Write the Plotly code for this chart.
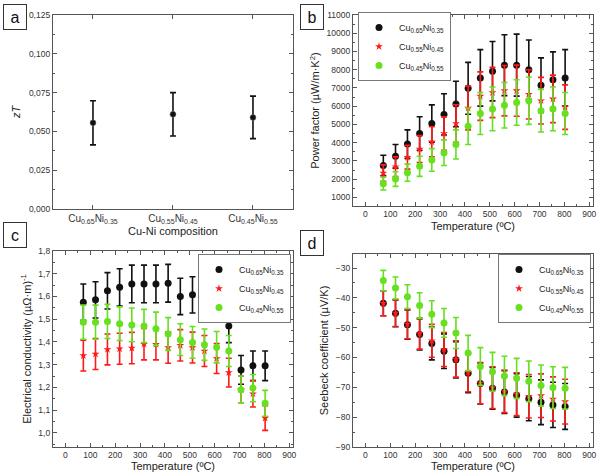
import plotly.graph_objects as go

# ---- data -------------------------------------------------------------
series_names = ["Cu<sub>0.65</sub>Ni<sub>0.35</sub>",
                "Cu<sub>0.55</sub>Ni<sub>0.45</sub>",
                "Cu<sub>0.45</sub>Ni<sub>0.55</sub>"]

# (a) zT per composition
zt_values = [0.0555, 0.061, 0.059]
zt_err = [0.0142, 0.014, 0.0137]

temps = [72, 121, 169, 218, 267, 316, 364, 413, 462, 511, 559, 608, 657, 706, 754, 803]

# (b) power factor
pf_065 = [2750, 3250, 3920, 4500, 5050, 5550, 6120, 6980, 7550, 7920, 8250, 8250, 8000, 7150, 7450, 7550]
pf_065_err = [560, 650, 780, 920, 1020, 1130, 1250, 1420, 1550, 1630, 1670, 1700, 1630, 1500, 1530, 1550]
pf_055 = [2330, 2680, 3200, 3650, 4050, 4500, 5050, 5900, 6550, 6750, 6850, 6850, 6650, 6300, 6400, 5950]
pf_055_err = [450, 540, 650, 740, 820, 920, 1030, 1200, 1330, 1380, 1380, 1400, 1350, 1280, 1300, 1220]
pf_045 = [1750, 2000, 2350, 2700, 3050, 3450, 3900, 4900, 5600, 5850, 6050, 6200, 6300, 5750, 5850, 5600]
pf_045_err = [350, 400, 470, 550, 620, 700, 800, 1000, 1150, 1200, 1250, 1250, 1300, 1170, 1200, 1150]

# (c) electrical conductivity
ec_065 = [1.575, 1.585, 1.625, 1.640, 1.655, 1.655, 1.655, 1.658, 1.600, 1.607, 1.607, 1.565, 1.470, 1.277, 1.295, 1.295]
ec_065_err = [0.080, 0.080, 0.080, 0.082, 0.083, 0.083, 0.083, 0.083, 0.080, 0.080, 0.080, 0.078, 0.073, 0.063, 0.065, 0.065]
ec_055 = [1.340, 1.347, 1.367, 1.370, 1.373, 1.390, 1.390, 1.375, 1.385, 1.375, 1.360, 1.327, 1.265, 1.190, 1.172, 1.065]
ec_055_err = [0.068, 0.068, 0.068, 0.068, 0.069, 0.069, 0.069, 0.069, 0.069, 0.068, 0.068, 0.066, 0.063, 0.060, 0.058, 0.054]
ec_045 = [1.487, 1.487, 1.490, 1.480, 1.475, 1.470, 1.458, 1.435, 1.410, 1.398, 1.388, 1.377, 1.360, 1.190, 1.197, 1.130]
ec_045_err = [0.075, 0.075, 0.075, 0.074, 0.074, 0.073, 0.073, 0.072, 0.070, 0.070, 0.069, 0.069, 0.068, 0.060, 0.060, 0.057]

# (d) Seebeck coefficient
sb_065 = [-41.8, -45.2, -49.0, -52.3, -55.3, -57.9, -60.8, -65.3, -68.7, -70.3, -71.6, -72.7, -73.8, -75.0, -75.9, -76.4]
sb_065_err = [4.2, 4.5, 4.9, 5.2, 5.5, 5.8, 6.1, 6.5, 6.9, 7.0, 7.2, 7.3, 7.4, 7.5, 7.6, 7.7]
sb_055 = [-41.8, -45.1, -48.8, -52.0, -54.4, -57.3, -60.5, -65.0, -68.6, -70.1, -71.4, -72.3, -73.0, -72.8, -73.9, -74.8]
sb_055_err = [4.2, 4.5, 4.9, 5.2, 5.5, 5.7, 6.1, 6.5, 6.9, 7.0, 7.1, 7.2, 7.3, 7.3, 7.4, 7.5]
sb_045 = [-34.2, -36.7, -39.6, -42.6, -45.5, -48.4, -51.8, -58.5, -63.0, -64.8, -66.2, -67.0, -68.0, -69.4, -70.1, -70.3]
sb_045_err = [3.4, 3.7, 4.0, 4.3, 4.5, 4.8, 5.2, 5.9, 6.3, 6.5, 6.6, 6.7, 6.8, 6.9, 7.0, 7.0]

colors = ["#111111", "#ff1a1a", "#66e01f"]
symbols = ["circle", "star", "circle"]
sizes = [7, 6, 7]
font = "Liberation Sans, Arial, sans-serif"

fig = go.Figure()

# panel a
fig.add_trace(go.Scatter(x=series_names, y=zt_values, mode="markers",
                         marker=dict(color="#111111", size=6, line=dict(color="#888", width=0.5)),
                         error_y=dict(type="data", array=zt_err, color="#111111", thickness=1.6, width=3),
                         showlegend=False, xaxis="x", yaxis="y"))

panel_data = [
    ("x2", "y2", "legend", [(pf_065, pf_065_err), (pf_055, pf_055_err), (pf_045, pf_045_err)]),
    ("x3", "y3", "legend2", [(ec_065, ec_065_err), (ec_055, ec_055_err), (ec_045, ec_045_err)]),
    ("x4", "y4", "legend3", [(sb_065, sb_065_err), (sb_055, sb_055_err), (sb_045, sb_045_err)]),
]
for xa, ya, lg, rows in panel_data:
    for i, (vals, errs) in enumerate(rows):
        fig.add_trace(go.Scatter(
            x=temps, y=vals, mode="markers", name=series_names[i],
            marker=dict(color=colors[i], size=sizes[i], symbol=symbols[i], line=dict(width=0)),
            error_y=dict(type="data", array=errs, color=colors[i], thickness=1.6, width=3),
            xaxis=xa, yaxis=ya, legend=lg))

ax_common = dict(showline=True, linecolor="#555", linewidth=1.2, mirror="ticks",
                 ticks="inside", ticklen=4, tickcolor="#555", showgrid=False, zeroline=False,
                 automargin=False,
                 tickfont=dict(size=8.5, color="#333", family=font),
                 title_font=dict(size=11, color="#222", family=font))
minor = dict(ticks="inside", ticklen=2, tickcolor="#555", showgrid=False)

temp_x = dict(ax_common, range=[-50, 915], dtick=100, tick0=0,
              minor=dict(minor, dtick=50),
              title=dict(text="Temperature (ºC)", standoff=3))

fig.update_layout(
    width=600, height=476, paper_bgcolor="white", plot_bgcolor="white",
    margin=dict(l=0, r=0, t=0, b=0), separators=",.",
    font=dict(family=font),
    xaxis=dict(ax_common, domain=[0.0883, 0.4883], range=[-0.5, 2.5],
               tickfont=dict(size=10, color="#333", family=font),
               title=dict(text="Cu-Ni composition", standoff=2)),
    yaxis=dict(ax_common, domain=[0.561, 0.9685], range=[0, 0.125], dtick=0.025,
               tickformat=".3f", minor=dict(minor, dtick=0.0125),
               title=dict(text="<i>zT</i>", standoff=6)),
    xaxis2=dict(temp_x, domain=[0.5883, 0.9883], anchor="y2"),
    yaxis2=dict(ax_common, domain=[0.567, 0.9685], range=[520, 11000], dtick=1000, tick0=0,
                tickformat="d", minor=dict(minor, dtick=500), anchor="x2",
                title=dict(text="Power factor (µW/m·K<sup>2</sup>)", standoff=4)),
    xaxis3=dict(temp_x, domain=[0.0883, 0.4883], anchor="y3"),
    yaxis3=dict(ax_common, domain=[0.061, 0.4727], range=[0.938, 1.8], dtick=0.1, tick0=0,
                tickformat=".1f", minor=dict(minor, dtick=0.05), anchor="x3",
                title=dict(text="Electrical conductivity (µΩ·m)<sup>-1</sup>", standoff=4)),
    xaxis4=dict(temp_x, domain=[0.5883, 0.9883], anchor="y4"),
    yaxis4=dict(ax_common, domain=[0.061, 0.4664], range=[-90, -25.3], dtick=10, tick0=0,
                minor=dict(minor, dtick=5), anchor="x4",
                title=dict(text="Seebeck coefficient (µV/K)", standoff=4)),
)

leg_common = dict(bgcolor="white", bordercolor="#777", borderwidth=1,
                  font=dict(size=9, color="#222", family=font),
                  itemsizing="trace", itemwidth=30, tracegroupgap=0,
                  yanchor="top")
fig.update_layout(
    legend=dict(leg_common, x=358 / 600, y=1 - 12 / 476, xanchor="left"),
    legend2=dict(leg_common, x=291 / 600, y=1 - 254 / 476, xanchor="right"),
    legend3=dict(leg_common, x=591 / 600, y=1 - 254 / 476, xanchor="right"),
)

# panel letters in boxes
for letter, x0, y0 in [("a", 3, 4), ("b", 300, 4), ("c", 3, 222), ("d", 300, 230)]:
    fig.add_annotation(text=letter, xref="paper", yref="paper",
                       x=x0 / 600, y=1 - y0 / 476, xanchor="left", yanchor="top",
                       showarrow=False, font=dict(size=16, color="#111", family=font),
                       bordercolor="#333", borderwidth=1, bgcolor="white",
                       width=20, height=22, borderpad=1)

# the page's default body margin would push the figure off the window
fig.write_html("out.html", config={"displayModeBar": False},
               post_script="document.body.style.margin='0';")
